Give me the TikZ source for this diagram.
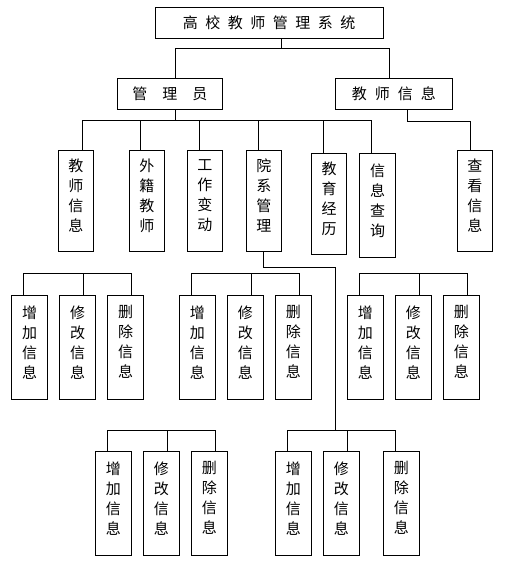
\documentclass[tikz,border=0pt]{standalone}
\usepackage{fontspec}
\newfontfamily\cjk{Noto Sans CJK SC}

\tikzset{
  box/.style={draw, line width=1pt, inner sep=0pt, font=\cjk\fontsize{15pt}{20pt}\selectfont},
  titlebox/.style={box, minimum height=31pt},
  vbox/.style={box, minimum width=35pt, minimum height=101pt, align=center, text depth=11pt},
  opbox/.style={vbox, minimum width=36pt, minimum height=104pt},
  link/.style={line width=1pt}
}

\begin{document}
\begin{tikzpicture}[x=1pt, y=-1pt]
\useasboundingbox (0,0) rectangle (505,564);
%\draw [help lines] (0,0) grid (505,564);
%1
\node[titlebox, minimum width=228pt] (sys) at (269,22.7) {高\hspace{7.5pt}校\hspace{7.5pt}教\hspace{7.5pt}师\hspace{7.5pt}管\hspace{7.5pt}理\hspace{7.5pt}系\hspace{7.5pt}统\hspace{15pt}};
\node[titlebox, minimum width=105pt] (admin) at (169.8,93.7) {管\hspace{15pt}理\hspace{15pt}员};
\node[titlebox, minimum width=117pt] (tinfo) at (393.8,93.7) {教\hspace{8pt}师\hspace{8pt}信\hspace{8pt}息};
\draw[link] ([xshift=12.3pt]sys.south) -- ++(0,10) -| ([xshift=5.9pt]admin.north);
\draw[link] ([xshift=12.3pt]sys.south) ++(0,10) -| ([xshift=-4.5pt]tinfo.north);

%2
\node[vbox] (a1) at (75.8,200.8) {教\\师\\信\\息};
\node[vbox] (a2) at (146.8,200.8) {外\\籍\\教\\师};
\node[vbox] (a3) at (204.8,200.8) {工\\作\\变\\动};
\node[vbox] (a4) at (263.8,200.8) {院\\系\\管\\理};
\node[vbox] (a5) at (329,203.8) {教\\育\\经\\历};
\node[vbox, minimum width=36.4pt, minimum height=104pt] (a6) at (377.5,205.3) {信\\息\\查\\询};
\node[vbox] (view) at (474.8,200.8) {查\\看\\信\\息};
\draw[link] ([xshift=5.9pt]admin.south) -- ++(0,11.7);
\draw[link] ([xshift=7pt]a1.north) -- ++(0,-29.3) -| ([xshift=-5.8pt]a6.north);
\draw[link] ([xshift=-6.5pt]a2.north) -- ++(0,-29.3);
\draw[link] ([xshift=-5.5pt]a3.north) -- ++(0,-29.3);
\draw[link] ([xshift=-5.5pt]a4.north) -- ++(0,-29.3);
\draw[link] ([xshift=-5.7pt]a5.north) -- ++(0,-32.3);
\draw[link] ([xshift=13.5pt]tinfo.south) -- ++(0,11.7) -| ([xshift=-4.5pt]view.north);

%3
\foreach \g/\x in {A/29.5, B/197.3, C/365.3}{
  \node[opbox] (add\g) at (\x,347.3) {增\\加\\信\\息};
  \node[opbox] (mod\g) at (\x+48,347.3) {修\\改\\信\\息};
  \node[opbox] (del\g) at (\x+96,347.3) {删\\除\\信\\息};
  \draw[link] ([xshift=-6pt]add\g.north) -- ++(0,-21.3) -| ([xshift=6pt]del\g.north);
  \draw[link] ([xshift=6pt]mod\g.north) -- ++(0,-21.3);
}

%4
\node[opbox] (addD) at (113.3,503.3) {增\\加\\信\\息};
\node[opbox] (modD) at (161.3,503.3) {修\\改\\信\\息};
\node[opbox] (delD) at (209.3,503.3) {删\\除\\信\\息};
\draw[link] ([xshift=-6pt]addD.north) -- ++(0,-20.6) -| ([xshift=6pt]delD.north);
\draw[link] ([xshift=6pt]modD.north) -- ++(0,-20.6);

\node[opbox] (addE) at (293.3,503.3) {增\\加\\信\\息};
\node[opbox] (modE) at (341.3,503.3) {修\\改\\信\\息};
\node[opbox] (delE) at (401.3,503.3) {删\\除\\信\\息};
\draw[link] ([xshift=-6pt]addE.north) -- ++(0,-20.6) -| ([xshift=-6pt]delE.north);
\draw[link] ([xshift=6pt]modE.north) -- ++(0,-20.6);

\draw[link] ([xshift=-0.5pt]a4.south) -- ++(0,15.4) -| ([xshift=-6pt,yshift=20.6pt]modE.north);
\end{tikzpicture}
\end{document}
